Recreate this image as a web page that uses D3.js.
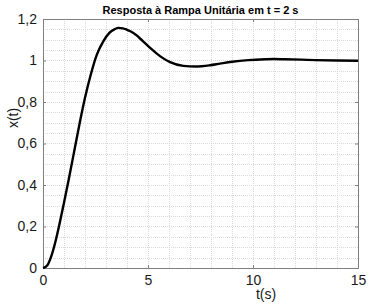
<!DOCTYPE html>
<html>
<head>
<meta charset="utf-8">
<script src="https://cdn.jsdelivr.net/npm/d3@7"></script>
<style>
  html, body { margin: 0; padding: 0; background: #fff; }
  svg { display: block; }
  text { font-family: "Liberation Sans", Arial, Helvetica, sans-serif; }
</style>
</head>
<body>
<svg id="chart" width="372" height="306"></svg>
<script>
const titleText = "Resposta à Rampa Unitária em t = 2 s";
const xLabel = "t(s)";
const yLabel = "x(t)";
const xTicks = [0, 5, 10, 15];
const yTicks = [0, 0.2, 0.4, 0.6, 0.8, 1.0, 1.2];
const yTickLabels = ["0", "0,2", "0,4", "0,6", "0,8", "1", "1,2"];
const tValues = [0, 0.2, 0.4, 0.6, 0.76, 1.0, 1.22, 1.5, 1.75, 2.0, 2.27, 2.56, 2.87, 3.16, 3.4, 3.6, 3.8, 4.0, 4.14, 4.46, 4.62, 5.1, 5.57, 6.05, 6.68, 7.3, 7.95, 8.43, 9.0, 9.78, 10.6, 11.0, 11.5, 12.3, 12.95, 14.0, 15.0];
const xValues = [0, 0.012, 0.058, 0.13, 0.2, 0.315, 0.424, 0.57, 0.70, 0.82, 0.93, 1.027, 1.092, 1.133, 1.150, 1.157, 1.155, 1.148, 1.142, 1.121, 1.106, 1.061, 1.021, 0.992, 0.974, 0.971, 0.977, 0.985, 0.994, 1.002, 1.006, 1.007, 1.006, 1.004, 1.002, 1.0, 0.999];

const svg = d3.select("#chart");
const L = 43, R = 358, T = 19, B = 268;
const x = d3.scaleLinear().domain([0, 15]).range([L, R]);
const y = d3.scaleLinear().domain([0, 1.2]).range([B, T]);

// minor grid
const gx = d3.range(1, 15, 1);
const gy = d3.range(1, 24, 1).map(i => i * 0.05);
svg.append("g").selectAll("line").data(gx).join("line")
  .attr("x1", d => Math.round(x(d)) + 0.5).attr("x2", d => Math.round(x(d)) + 0.5)
  .attr("y1", T).attr("y2", B)
  .attr("stroke", "#dadada").attr("stroke-width", 1).attr("stroke-dasharray", "1,1");
svg.append("g").selectAll("line").data(gy).join("line")
  .attr("y1", d => Math.round(y(d)) + 0.5).attr("y2", d => Math.round(y(d)) + 0.5)
  .attr("x1", L).attr("x2", R)
  .attr("stroke", "#dadada").attr("stroke-width", 1).attr("stroke-dasharray", "1,1");

// axes
const axColor = "#7f7f7f";
const xAxis = svg.append("g").attr("transform", `translate(0,${B})`)
  .call(d3.axisBottom(x).tickValues(xTicks).tickSize(-3).tickPadding(6).tickFormat(d3.format("d")));
const xAxisTop = svg.append("g").attr("transform", `translate(0,${T})`)
  .call(d3.axisTop(x).tickValues(xTicks).tickSize(-3).tickFormat(""));
const yAxis = svg.append("g").attr("transform", `translate(${L},0)`)
  .call(d3.axisLeft(y).tickValues(yTicks).tickSize(-3).tickPadding(6).tickFormat((d, i) => yTickLabels[i]));
const yAxisR = svg.append("g").attr("transform", `translate(${R},0)`)
  .call(d3.axisRight(y).tickValues(yTicks).tickSize(-3).tickFormat(""));
[xAxis, xAxisTop, yAxis, yAxisR].forEach(g => {
  g.select(".domain").attr("stroke", axColor);
  g.selectAll(".tick line").attr("stroke", axColor);
  g.selectAll("text").attr("fill", "#1a1a1a").style("font-size", "14px")
    .style("font-family", "'Liberation Sans', Arial, sans-serif");
});
xAxis.selectAll("text").attr("dy", "0.75em");

// curve
const pts = tValues.map((t, i) => [t, xValues[i]]);
svg.append("path").datum(pts)
  .attr("fill", "none").attr("stroke", "#000").attr("stroke-width", 2.4)
  .attr("stroke-linejoin", "round")
  .attr("d", d3.line().x(d => x(d[0])).y(d => y(d[1])).curve(d3.curveMonotoneX));

// title
svg.append("text").attr("x", (L + R) / 2).attr("y", 14).attr("text-anchor", "middle")
  .style("font-size", "11px").style("font-weight", "bold").attr("fill", "#000").text(titleText);
// labels
svg.append("text").attr("x", 266).attr("y", 299).attr("text-anchor", "middle")
  .style("font-size", "14px").attr("fill", "#1a1a1a").text(xLabel);
svg.append("text").attr("transform", "translate(18,118) rotate(-90)").attr("text-anchor", "middle")
  .style("font-size", "14px").attr("fill", "#1a1a1a").text(yLabel);
</script>
</body>
</html>
